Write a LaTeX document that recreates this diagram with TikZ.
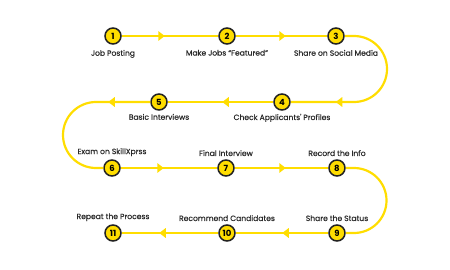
\documentclass[tikz,border=0pt]{standalone}
\usepackage{fontspec}
\setmainfont{Poppins}
\newfontfamily\capfont[FakeBold=0.6]{Poppins}
\usetikzlibrary{arrows.meta, positioning, decorations.markings}
\definecolor{flowyellow}{HTML}{FFDD00}
\definecolor{ringgray}{HTML}{222222}
\definecolor{textgray}{HTML}{2A2A2A}

\begin{document}
\begin{tikzpicture}[x=1pt, y=1pt, font=\capfont\fontsize{7.6}{9}\selectfont,
  stepnode/.style={circle, draw=ringgray, line width=1.5pt, fill=flowyellow,
                   minimum size=16pt, inner sep=0pt, font=\fontsize{8.5}{9}\selectfont\bfseries},
  caption/.style={text=textgray, inner sep=1pt},
  path/.style={draw=flowyellow, line width=2.2pt},
  tip/.style={decoration={markings, mark=at position #1 with
              {\arrow[flowyellow]{Triangle[length=6.5pt, width=9.5pt]}}},
              postaction=decorate}]
\useasboundingbox (0,0) rectangle (450,-270);

% --- step circles
\node[stepnode] (n1)  at (113,-36)  {1};
\node[stepnode] (n2)  at (227,-36)  {2};
\node[stepnode] (n3)  at (336,-36)  {3};
\node[stepnode] (n4)  at (282,-102) {4};
\node[stepnode] (n5)  at (159,-102) {5};
\node[stepnode] (n6)  at (112,-168) {6};
\node[stepnode] (n7)  at (226,-168) {7};
\node[stepnode] (n8)  at (337,-168) {8};
\node[stepnode] (n9)  at (337,-233) {9};
\node[stepnode] (n10) at (227,-233) {10};
\node[stepnode] (n11) at (113,-233) {11};

% --- captions
\node[caption, below=4pt of n1] (l1) {Job Posting};
\node[caption, below=4pt of n2] (l2) {Make Jobs “Featured”};
\node[caption, below=4pt of n3] (l3) {Share on Social Media};
\node[caption, below=2pt of n4] (l4) {Check Applicants' Profiles};
\node[caption, below=2pt of n5] (l5) {Basic Interviews};
\node[caption, above=2pt of n6] (l6) {Exam on SkillXprss};
\node[caption, above=2pt of n7] (l7) {Final Interview};
\node[caption, above=2pt of n8] (l8) {Record the Info};
\node[caption, above=2pt of n9] (l9) {Share the Status};
\node[caption, above=2pt of n10] (l10) {Recommend Candidates};
\node[caption, above=2pt of n11] (l11) {Repeat the Process};

% --- connectors
\path[path, tip=43pt] (n1) -- (n2);
\path[path, tip=50pt] (n2) -- (n3);
\path[path, tip=-45pt] (n3) -- (354,-36) arc[start angle=90, end angle=-90, radius=33] -- (n4);
\path[path, tip=51pt] (n4) -- (n5);
\path[path, tip=42pt] (n5) -- (96,-102) arc[start angle=90, end angle=270, radius=33] -- (n6);
\path[path, tip=43pt] (n6) -- (n7);
\path[path, tip=51pt] (n7) -- (n8);
\path[path] (n8) -- (354,-168) arc[start angle=90, end angle=-90, radius=32.5] -- (n9);
\path[path, tip=46pt] (n9) -- (n10);
\path[path, tip=59pt] (n10) -- (n11);
\end{tikzpicture}
\end{document}
